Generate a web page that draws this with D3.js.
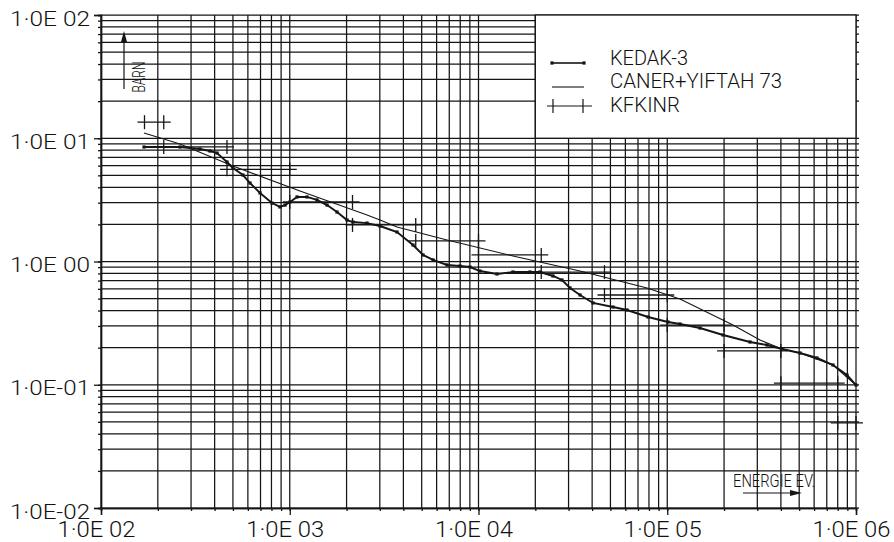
<!DOCTYPE html>
<html><head><meta charset="utf-8">
<script src="https://cdn.jsdelivr.net/npm/d3@7"></script>
<style>
html,body{margin:0;padding:0;background:#fff;}
svg{display:block;}
text{font-family:Roboto,'Liberation Sans',Arial,sans-serif;font-weight:300;fill:#111;}
</style></head><body>
<svg id="c" width="894" height="542"></svg>
<script>
// ---- data ----
const xTicks = [1e2, 1e3, 1e4, 1e5, 1e6];
const xTickLabels = ["1·0E 02", "1·0E 03", "1·0E 04", "1·0E 05", "1·0E 06"];
const yTicks = [1e-2, 1e-1, 1e0, 1e1, 1e2];
const yTickLabels = ["1·0E-02", "1·0E-01", "1·0E 00", "1·0E 01", "1·0E 02"];
const seriesNames = ["KEDAK-3", "CANER+YIFTAH 73", "KFKINR"];
const xTitle = "ENERGIE EV.";
const yTitle = "BARN";

const kedakE = [169,262,334,378,412,465,500,565,616,696,805,888,944,1003,1093,1234,1394,1576,1780,2011,2163,2567,3007,3701,4498,5082,5741,6810,7980,9016,10180,12530,15230,18740,21180,24810,27700,30540,34500,40430,51600,61200,79100,100900,116800,149100,197500,274400,337700,405500,505100,621500,755300,896000,1000000];
const kedakS = [8.49,8.49,8.18,7.88,7.59,6.42,5.74,5.03,4.33,3.60,2.98,2.77,2.87,3.04,3.34,3.34,3.16,2.87,2.52,2.17,2.09,2.05,1.94,1.735,1.36,1.13,1.03,0.937,0.919,0.902,0.837,0.792,0.822,0.822,0.822,0.763,0.708,0.610,0.535,0.461,0.427,0.404,0.3545,0.323,0.311,0.2886,0.2533,0.2223,0.2102,0.195,0.181,0.1648,0.1446,0.12,0.0995];

const canerE = [169,262,500,1133,2567,3007,3701,6810,15230,34500,78100,116800,223000,310000,405500,505100,755300,1000000];
const canerS = [11.03,8.98,5.95,3.73,2.38,2.17,1.905,1.494,1.108,0.837,0.610,0.496,0.305,0.2307,0.195,0.181,0.1446,0.0995];

const kfkBounds = [170,215,465,1000,2150,4650,10000,21500,46500,100000,200000,400000,800000,1000000];
const kfkS = [13.5,8.5,5.6,3.04,1.98,1.47,1.13,0.82,0.535,0.305,0.188,0.103,0.049];

// ---- chart ----
const svg = d3.select("#c");
const x = d3.scaleLog().domain([1e2, 1e6]).range([101, 856]);
const y = d3.scaleLog().domain([1e-2, 1e2]).range([508, 15]);
const ink = "#151515";
const FONT = "Roboto,'Liberation Sans',Arial,sans-serif";

const xGrid = [], yGrid = [];
for (let d = 2; d <= 5; d++) for (let k = 1; k <= 9; k++) xGrid.push(k * Math.pow(10, d));
xGrid.push(1e6);
for (let d = -2; d <= 1; d++) for (let k = 1; k <= 9; k++) yGrid.push(k * Math.pow(10, d));
yGrid.push(1e2);

const grid = svg.append("g").attr("stroke", ink).attr("stroke-width", 1.25);
grid.selectAll("line.v").data(xGrid).join("line").attr("class","v")
  .attr("x1", d => x(d)).attr("x2", d => x(d))
  .attr("y1", y(1e2)).attr("y2", y(1e-2));
grid.selectAll("line.h").data(yGrid).join("line").attr("class","h")
  .attr("x1", x(1e2)).attr("x2", x(1e6) + 3)
  .attr("y1", d => y(d)).attr("y2", d => y(d));

// legend box (blanks the grid)
svg.append("rect")
  .attr("x", x(2e4)).attr("y", y(1e2))
  .attr("width", x(1e6) - x(2e4)).attr("height", y(1e1) - y(1e2))
  .attr("fill", "#fff").attr("stroke", ink).attr("stroke-width", 1.3);

// axes
function styleAxis(g) {
  g.select(".domain").attr("stroke", ink).attr("stroke-width", 1.4);
  g.selectAll(".tick line").attr("stroke", ink).attr("stroke-width", 1.3);
}
const yMinor = svg.append("g").attr("transform", `translate(${x(1e2)},0)`)
  .call(d3.axisLeft(y).tickValues(yGrid).tickSize(3).tickFormat(""));
styleAxis(yMinor);
const xMinor = svg.append("g").attr("transform", `translate(0,${y(1e-2)})`)
  .call(d3.axisBottom(x).tickValues(xGrid).tickSize(3).tickFormat(""));
styleAxis(xMinor);

const yAx = svg.append("g").attr("transform", `translate(${x(1e2)},0)`)
  .call(d3.axisLeft(y).tickValues(yTicks).tickSize(7).tickFormat((d, i) => yTickLabels[i]));
styleAxis(yAx);
yAx.selectAll(".tick text")
  .attr("x", -11).attr("y", 10).attr("dy", null)
  .attr("text-anchor", "end")
  .attr("font-size", 21).attr("fill", ink)
  .attr("textLength", 80).attr("lengthAdjust", "spacingAndGlyphs")
  .style("font-family", FONT).style("font-weight", 300);

const xAx = svg.append("g").attr("transform", `translate(0,${y(1e-2)})`)
  .call(d3.axisBottom(x).tickValues(xTicks).tickSize(7).tickFormat((d, i) => xTickLabels[i]));
styleAxis(xAx);
xAx.selectAll(".tick text")
  .attr("x", -5).attr("y", 29).attr("dy", null)
  .attr("text-anchor", "middle")
  .attr("font-size", 22).attr("fill", ink)
  .attr("textLength", 78).attr("lengthAdjust", "spacingAndGlyphs")
  .style("font-family", FONT).style("font-weight", 300);

// series
const line = d3.line().x(d => x(d[0])).y(d => y(d[1]));
const canerPts = canerE.map((e, i) => [e, canerS[i]]);
const kedakPts = kedakE.map((e, i) => [e, kedakS[i]]);

svg.append("path").datum(canerPts).attr("d", line)
  .attr("fill", "none").attr("stroke", ink).attr("stroke-width", 1.1);

svg.append("path").datum(kedakPts).attr("d", line)
  .attr("fill", "none").attr("stroke", ink).attr("stroke-width", 1.9);
svg.append("g").selectAll("rect").data(kedakPts).join("rect")
  .attr("x", d => x(d[0]) - 1.6).attr("y", d => y(d[1]) - 1.6)
  .attr("width", 3.2).attr("height", 3.2).attr("fill", ink);

// KFKINR groups
const kfk = kfkS.map((s, i) => ({lo: kfkBounds[i], hi: kfkBounds[i + 1], s}));
const kg = svg.append("g").attr("stroke", ink).attr("stroke-width", 1.3);
kg.selectAll("line.hz").data(kfk).join("line").attr("class","hz")
  .attr("x1", d => x(d.lo) - 7).attr("x2", d => x(d.hi) + 7)
  .attr("y1", d => y(d.s)).attr("y2", d => y(d.s));
kg.selectAll("line.vl").data(kfk).join("line").attr("class","vl")
  .attr("x1", d => x(d.lo)).attr("x2", d => x(d.lo))
  .attr("y1", d => y(d.s) - 7).attr("y2", d => y(d.s) + 7);
kg.selectAll("line.vr").data(kfk).join("line").attr("class","vr")
  .attr("x1", d => x(d.hi)).attr("x2", d => x(d.hi))
  .attr("y1", d => y(d.s) - 7).attr("y2", d => y(d.s) + 7);

// legend content
const leg = svg.append("g");
const legY = [63, 87, 106];
const textY = [65, 88, 112];
const textLen = [78, 172, 70];
leg.selectAll("text").data(seriesNames).join("text")
  .attr("x", 610).attr("y", (d, i) => textY[i])
  .attr("font-size", 20).attr("fill", ink)
  .attr("textLength", (d, i) => textLen[i]).attr("lengthAdjust", "spacingAndGlyphs")
  .text(d => d);
leg.append("line").attr("x1", 552).attr("x2", 584).attr("y1", legY[0]).attr("y2", legY[0])
  .attr("stroke", ink).attr("stroke-width", 1.6);
leg.selectAll("rect").data([552, 584]).join("rect")
  .attr("x", d => d - 1.6).attr("y", legY[0] - 1.6).attr("width", 3.2).attr("height", 3.2).attr("fill", ink);
leg.append("line").attr("x1", 552).attr("x2", 584).attr("y1", legY[1]).attr("y2", legY[1])
  .attr("stroke", ink).attr("stroke-width", 1.1);
leg.append("line").attr("x1", 547).attr("x2", 592).attr("y1", legY[2]).attr("y2", legY[2])
  .attr("stroke", ink).attr("stroke-width", 1.2);
leg.selectAll("line.t").data([553, 583]).join("line").attr("class","t")
  .attr("x1", d => d).attr("x2", d => d).attr("y1", legY[2] - 7).attr("y2", legY[2] + 7)
  .attr("stroke", ink).attr("stroke-width", 1.2);

// axis titles with arrows
svg.append("text").attr("transform", "translate(145,77) rotate(-90)")
  .attr("text-anchor", "middle").attr("font-size", 19).attr("fill", ink)
  .attr("textLength", 31).attr("lengthAdjust", "spacingAndGlyphs").text(yTitle);
svg.append("line").attr("x1", 124).attr("x2", 124).attr("y1", 89).attr("y2", 36)
  .attr("stroke", ink).attr("stroke-width", 1.2);
svg.append("path").attr("d", "M124,31 L121,42 L127,42 Z").attr("fill", ink);

svg.append("text").attr("x", 733).attr("y", 487)
  .attr("font-size", 19).attr("fill", ink)
  .attr("textLength", 82).attr("lengthAdjust", "spacingAndGlyphs").text(xTitle);
svg.append("line").attr("x1", 743).attr("x2", 795).attr("y1", 493).attr("y2", 493)
  .attr("stroke", ink).attr("stroke-width", 1.2);
svg.append("path").attr("d", "M802,493 L790,490 L790,496 Z").attr("fill", ink);
</script>
</body></html>
